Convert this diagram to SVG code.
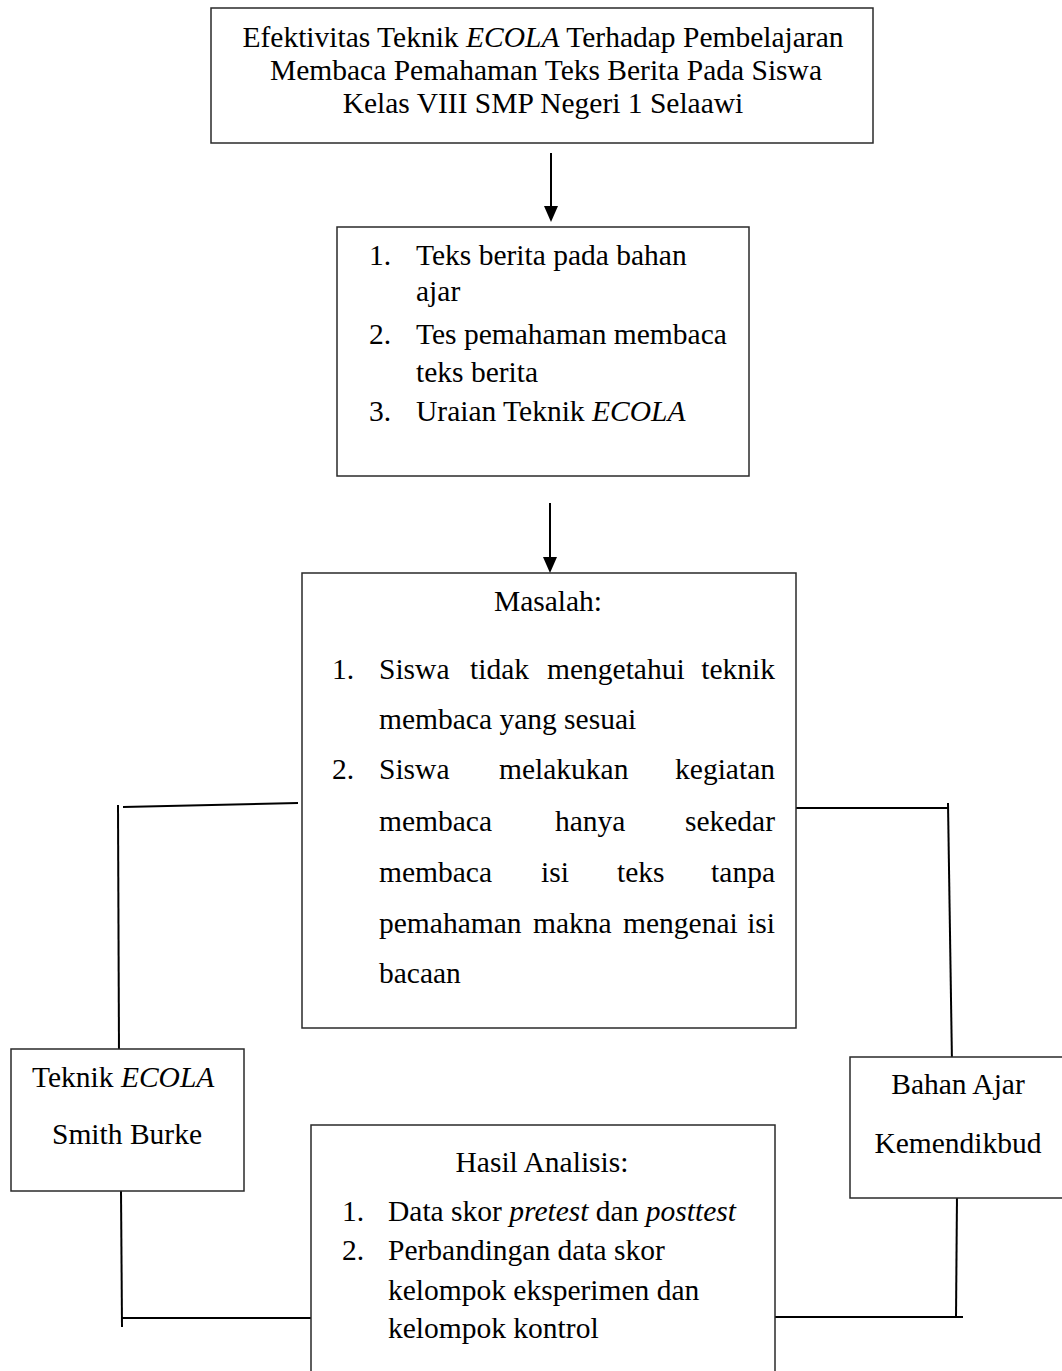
<svg xmlns="http://www.w3.org/2000/svg" width="1062" height="1371" viewBox="0 0 1062 1371">
<style>
  .box { fill: #ffffff; stroke: #2a2a2a; stroke-width: 1.5; }
  .t { font-family: "Liberation Serif", "Times New Roman", serif; font-size: 29.5px; fill: #000; }
  .c { text-anchor: middle; }
  .e { text-anchor: end; }
  .i { font-style: italic; }
  .ln { stroke: #000; stroke-width: 2; fill: none; }
</style>
<rect width="1062" height="1371" fill="#ffffff"/>

<g id="connectors">
  <line class="ln" x1="551" y1="153" x2="551" y2="206"/>
  <polygon points="544,206 558,206 551,222" fill="#000"/>
  <line class="ln" x1="550" y1="503" x2="550" y2="557"/>
  <polygon points="543,557 557,557 550,573" fill="#000"/>
  <line class="ln" x1="298" y1="803" x2="123" y2="807"/>
  <line class="ln" x1="118" y1="805" x2="119" y2="1055"/>
  <line class="ln" x1="786" y1="808" x2="948" y2="808"/>
  <line class="ln" x1="948" y1="803" x2="952" y2="1064"/>
  <line class="ln" x1="121" y1="1191" x2="122" y2="1327"/>
  <line class="ln" x1="122" y1="1318" x2="311" y2="1318"/>
  <line class="ln" x1="775" y1="1317" x2="963" y2="1317"/>
  <line class="ln" x1="957" y1="1195" x2="956" y2="1318"/>
</g>

<g id="node-judul">
  <rect class="box" x="211" y="8" width="662" height="135"/>
  <text class="t c" x="543" y="47">Efektivitas Teknik <tspan class="i">ECOLA</tspan> Terhadap Pembelajaran</text>
  <text class="t c" x="546" y="80">Membaca Pemahaman Teks Berita Pada Siswa</text>
  <text class="t c" x="543" y="113">Kelas VIII SMP Negeri 1 Selaawi</text>
</g>

<g id="node-bahan-kajian">
  <rect class="box" x="337" y="227" width="412" height="249"/>
  <text class="t" x="369" y="265">1.</text>
  <text class="t" x="416" y="265">Teks berita pada bahan</text>
  <text class="t" x="416" y="301">ajar</text>
  <text class="t" x="369" y="344">2.</text>
  <text class="t" x="416" y="344">Tes pemahaman membaca</text>
  <text class="t" x="416" y="382">teks berita</text>
  <text class="t" x="369" y="421">3.</text>
  <text class="t" x="416" y="421">Uraian Teknik <tspan class="i">ECOLA</tspan></text>
</g>

<g id="node-masalah">
  <rect class="box" x="302" y="573" width="494" height="455"/>
  <text class="t c" x="548" y="611">Masalah:</text>
  <text class="t" x="332" y="679">1.</text>
  <text class="t" x="379" y="679">Siswa</text>
  <text class="t" x="470" y="679">tidak</text>
  <text class="t" x="547" y="679">mengetahui</text>
  <text class="t e" x="775" y="679">teknik</text>
  <text class="t" x="379" y="729">membaca yang sesuai</text>
  <text class="t" x="332" y="779">2.</text>
  <text class="t" x="379" y="779">Siswa</text>
  <text class="t" x="499" y="779">melakukan</text>
  <text class="t e" x="775" y="779">kegiatan</text>
  <text class="t" x="379" y="831">membaca</text>
  <text class="t" x="555" y="831">hanya</text>
  <text class="t e" x="775" y="831">sekedar</text>
  <text class="t" x="379" y="882">membaca</text>
  <text class="t" x="541" y="882">isi</text>
  <text class="t" x="617" y="882">teks</text>
  <text class="t e" x="775" y="882">tanpa</text>
  <text class="t" x="379" y="933">pemahaman</text>
  <text class="t" x="533" y="933">makna</text>
  <text class="t" x="623" y="933">mengenai</text>
  <text class="t e" x="775" y="933">isi</text>
  <text class="t" x="379" y="983">bacaan</text>
</g>

<g id="node-teknik">
  <rect class="box" x="11" y="1049" width="233" height="142"/>
  <text class="t" x="32" y="1087">Teknik <tspan class="i">ECOLA</tspan></text>
  <text class="t c" x="127" y="1144">Smith Burke</text>
</g>

<g id="node-bahan-ajar">
  <rect class="box" x="850" y="1057" width="220" height="141"/>
  <text class="t c" x="958" y="1094">Bahan Ajar</text>
  <text class="t c" x="958" y="1153">Kemendikbud</text>
</g>

<g id="node-hasil">
  <rect class="box" x="311" y="1125" width="464" height="260"/>
  <text class="t c" x="542" y="1172">Hasil Analisis:</text>
  <text class="t" x="342" y="1221">1.</text>
  <text class="t" x="388" y="1221">Data skor <tspan class="i">pretest</tspan> dan <tspan class="i">posttest</tspan></text>
  <text class="t" x="342" y="1260">2.</text>
  <text class="t" x="388" y="1260">Perbandingan data skor</text>
  <text class="t" x="388" y="1300">kelompok eksperimen dan</text>
  <text class="t" x="388" y="1338">kelompok kontrol</text>
</g>
</svg>
